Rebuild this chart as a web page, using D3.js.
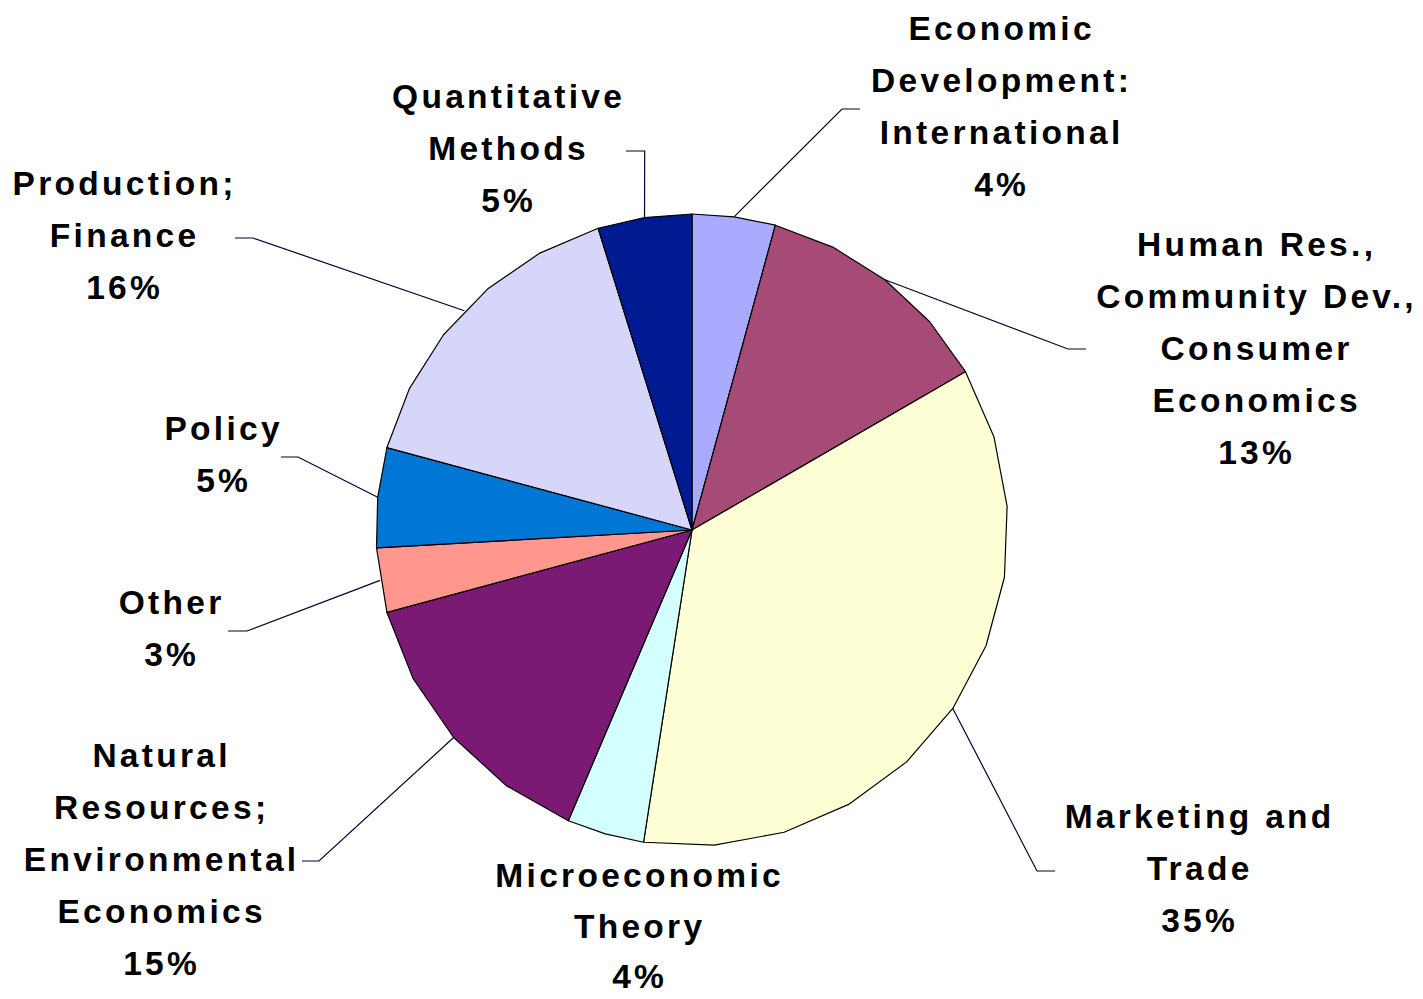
<!DOCTYPE html>
<html><head><meta charset="utf-8">
<script src="https://cdn.jsdelivr.net/npm/d3@7"></script>
<style>body{margin:0;background:#fff;overflow:hidden}</style>
</head><body><svg id="chart" width="1423" height="999"></svg>
<script>
// ---- data ----
const categories = [
  "Economic\nDevelopment:\nInternational",
  "Human Res.,\nCommunity Dev.,\nConsumer\nEconomics",
  "Marketing and\nTrade",
  "Microeconomic\nTheory",
  "Natural\nResources;\nEnvironmental\nEconomics",
  "Other",
  "Policy",
  "Production;\nFinance",
  "Quantitative\nMethods"
];
const values = [4.25, 12.4, 35.8, 3.95, 14.4, 3.3, 5.1, 16.0, 4.8];
const percentLabels = ["4%", "13%", "35%", "4%", "15%", "3%", "5%", "16%", "5%"];
const colors = ["#AAAAFF", "#A64A76", "#FFFFD6", "#D4FFFF", "#7A1A74", "#FF978F", "#0077D5", "#D6D6FA", "#001A91"];

// ---- layout (positions only) ----
const cx = 692, cy = 530, R = 316;
const labelPos = [[1000,40],[1255,256],[1198,828],[638,887],[160,767],[170,614],[222,440],[123,195],[507,108]];
const lineHs = [52,52,52,50.5,52,52,52,52,52];
// elbow x, elbow y, end x
const leaders = [[842,109,860],[1068,349,1086],[1037,871,1055],null,[319,861,302],[247,631,228],[298,457,281],[253,238,235],[644.7,151,626]];

const svg = d3.select("#chart");
const g = svg.append("g").attr("transform", `translate(${cx},${cy})`);

const pie = d3.pie().sort(null).value(d => d.value);
const data = pie(categories.map((c, i) => ({name: c, value: values[i], color: colors[i], pct: percentLabels[i]})));

// polygonal arcs (flattened like the original renderer)
function slicePoints(d) {
  const span = d.endAngle - d.startAngle;
  const chunks = Math.ceil(span / (Math.PI / 2) - 1e-9);
  const pts = [[0, 0]];
  const chunkSpan = span / chunks;
  for (let c = 0; c < chunks; c++) {
    const m = Math.max(1, Math.ceil(chunkSpan / (13 * Math.PI / 180)));
    for (let k = 0; k <= m; k++) {
      if (c > 0 && k === 0) continue;
      const a = d.startAngle + c * chunkSpan + chunkSpan * k / m;
      pts.push([Math.sin(a) * R, -Math.cos(a) * R]);
    }
  }
  return pts;
}
const line = d3.line().curve(d3.curveLinearClosed);

g.selectAll("path.slice").data(data).join("path")
  .attr("class", "slice")
  .attr("d", d => line(slicePoints(d)))
  .attr("fill", d => d.data.color)
  .attr("stroke", "#000")
  .attr("stroke-width", 1.2)
  .attr("stroke-linejoin", "round");

// leader lines
data.forEach((d, i) => {
  const L = leaders[i];
  if (!L) return;
  const a = (d.startAngle + d.endAngle) / 2;
  const sx = cx + Math.sin(a) * R, sy = cy - Math.cos(a) * R;
  svg.append("path")
    .attr("d", d3.line()([[sx, sy], [L[0], L[1]], [L[2], L[1]]]))
    .attr("fill", "none")
    .attr("stroke", "#000033")
    .attr("stroke-width", 1.2);
});

// labels
const ls = 3.3;
data.forEach((d, i) => {
  const lines = d.data.name.split("\n").concat(d.data.pct);
  const t = svg.append("text")
    .attr("text-anchor", "middle")
    .attr("font-family", "'Liberation Sans', Arial, sans-serif")
    .attr("font-weight", "bold")
    .attr("font-size", 33.5)
    .attr("letter-spacing", ls + "px")
    .attr("fill", "#000");
  lines.forEach((s, k) => {
    t.append("tspan")
      .attr("x", labelPos[i][0] + ls / 2)
      .attr("y", labelPos[i][1] + k * lineHs[i])
      .text(s);
  });
});
</script>
</body></html>
